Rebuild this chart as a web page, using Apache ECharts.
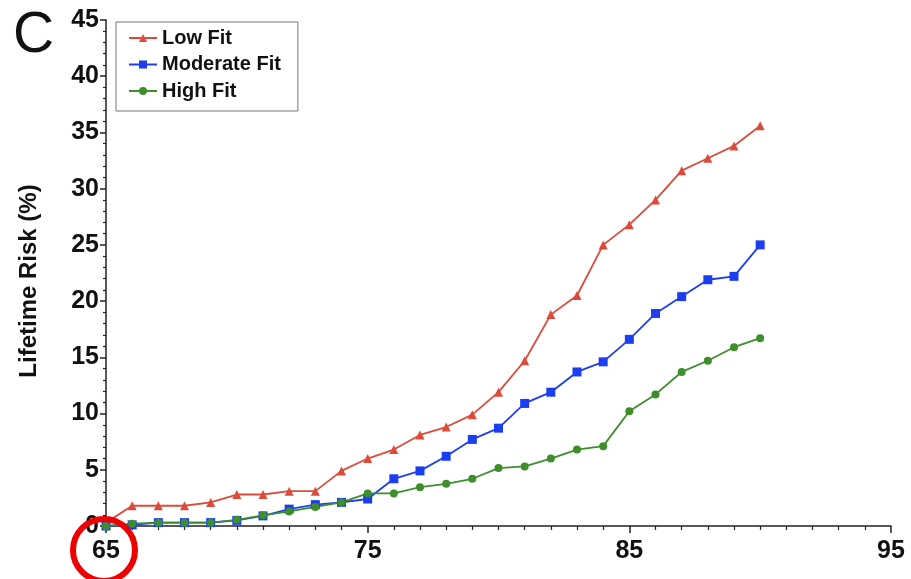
<!DOCTYPE html>
<html>
<head>
<meta charset="utf-8">
<script src="https://cdn.jsdelivr.net/npm/echarts@6/dist/echarts.min.js"></script>
<style>html,body{margin:0;padding:0;background:#fff}#c{width:911px;height:579px}</style>
</head>
<body>
<div id="c"></div>
<script>
var ages = [65,66,67,68,69,70,71,72,73,74,75,76,77,78,79,80,81,82,83,84,85,86,87,88,89,90];
var lowFit = [0.3,1.8,1.8,1.8,2.1,2.8,2.8,3.1,3.1,4.9,6.0,6.8,8.1,8.8,9.9,11.9,14.7,18.8,20.5,25.0,26.8,29.0,31.6,32.7,33.8,35.6];
var moderateFit = [0,0.1,0.3,0.3,0.3,0.5,0.9,1.5,1.9,2.1,2.4,4.2,4.9,6.2,7.7,8.7,10.9,11.9,13.7,14.6,16.6,18.9,20.4,21.9,22.2,25.0];
var highFit = [0,0.2,0.3,0.3,0.3,0.55,0.95,1.3,1.7,2.1,2.9,2.9,3.45,3.75,4.2,5.15,5.3,6.0,6.8,7.1,10.2,11.7,13.7,14.7,15.9,16.7];
var xTicks = [65,75,85,95];
var yTicks = [0,5,10,15,20,25,30,35,40,45];

function pairs(v){ return ages.map(function(a,i){ return [a, v[i]]; }); }

var chart = echarts.init(document.getElementById('c'));
var font = 'Liberation Sans, Arial, sans-serif';
chart.setOption({
  animation: false,
  backgroundColor: '#fff',
  grid: {left: 106, right: 20, top: 20, bottom: 53},
  legend: {
    left: 116, top: 22, orient: 'vertical',
    padding: [6, 17, 10, 12], itemGap: 6.5, itemWidth: 28, itemHeight: 10,
    borderColor: '#777', borderWidth: 1,
    textStyle: {fontFamily: font, fontWeight: 'bold', fontSize: 20, color: '#111'},
    data: ['Low Fit','Moderate Fit','High Fit']
  },
  xAxis: {
    type: 'value', min: xTicks[0], max: xTicks[xTicks.length-1], interval: 10,
    axisLine: {lineStyle: {color: '#222', width: 1.5}},
    axisTick: {show: true, inside: false, length: 7, lineStyle: {color: '#222', width: 1.5}},
    minorTick: {show: true, splitNumber: 10, length: 4, lineStyle: {color: '#222', width: 1.2}},
    splitLine: {show: false},
    axisLabel: {fontFamily: font, fontWeight: 'bold', fontSize: 25, color: '#111', margin: 13}
  },
  yAxis: {
    type: 'value', min: yTicks[0], max: yTicks[yTicks.length-1], interval: 5,
    axisLine: {lineStyle: {color: '#222', width: 1.5}},
    axisTick: {show: true, length: 6, lineStyle: {color: '#222', width: 1.5}},
    minorTick: {show: true, splitNumber: 5, length: 3, lineStyle: {color: '#222', width: 1.2}},
    splitLine: {show: false},
    axisLabel: {fontFamily: font, fontWeight: 'bold', fontSize: 25, color: '#111', margin: 7}
  },
  series: [
    {name: 'Low Fit', type: 'line', data: pairs(lowFit), symbol: 'triangle', symbolSize: 9,
      color: '#dd4a3a', lineStyle: {width: 1.8}},
    {name: 'Moderate Fit', type: 'line', data: pairs(moderateFit), symbol: 'rect', symbolSize: 9,
      color: '#1c3ef0', lineStyle: {width: 1.8}},
    {name: 'High Fit', type: 'line', data: pairs(highFit), symbol: 'circle', symbolSize: 8,
      color: '#3e8e2c', lineStyle: {width: 1.8}}
  ],
  graphic: [
    {type: 'text', left: 13, top: 8, style: {text: 'C', fontFamily: font, fontSize: 57, fill: '#111'}},
    {type: 'text', x: 29, y: 281, rotation: Math.PI / 2,
      style: {text: 'Lifetime Risk (%)', fontFamily: font, fontWeight: 'bold', fontSize: 24, fill: '#111', align: 'center', verticalAlign: 'middle'}},
    {type: 'circle', shape: {cx: 104, cy: 550, r: 31}, style: {fill: 'none', stroke: '#ee0000', lineWidth: 6}, z: 100}
  ]
});
</script>
</body>
</html>
